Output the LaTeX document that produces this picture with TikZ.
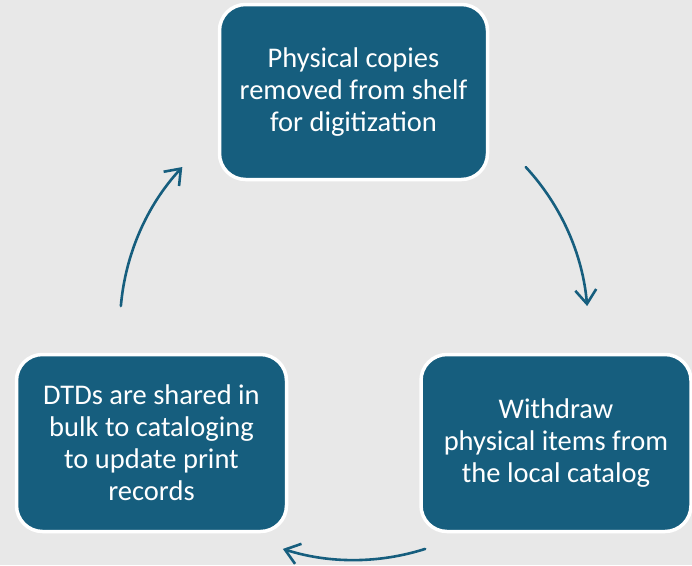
\documentclass[tikz,border=0pt]{standalone}
\usepackage{fontspec}
\setmainfont{Carlito}
\usetikzlibrary{arrows.meta,calc}
\definecolor{bg}{HTML}{E8E8E8}
\definecolor{teal}{HTML}{165E7E}
\begin{document}
\begin{tikzpicture}[x=1pt,y=-1pt,
  stepbox/.style={draw=white, line width=3.5pt, fill=teal, rounded corners=26pt,
    minimum width=268pt, minimum height=175pt, text=white, align=center,
    font=\fontsize{28.5}{32}\selectfont, inner sep=0pt},
  cyc/.style={draw=teal, line width=2.6pt, line cap=round,
    -{Straight Barb[length=14pt,width=21pt,line width=2.6pt]}}]
\fill[bg] (0,0) rectangle (692,565);
\useasboundingbox (0,0) rectangle (692,565);
\node[stepbox] (top) at (353.5,92) {Physical copies\\removed from shelf\\for digitization};
\node[stepbox, minimum width=270pt, minimum height=177pt] (right) at (556,443) {Withdraw\\physical items from\\the local catalog};
\node[stepbox, minimum width=270pt, minimum height=177pt] (left) at (151.5,443) {DTDs are shared in\\bulk to cataloging\\to update print\\records};
\coordinate (c) at (354,326);
\coordinate (a1) at ($(c)+(42.8:234pt)$);
\coordinate (a2) at ($(c)+(-72.3:234pt)$);
\coordinate (a3) at ($(c)+(175.1:234pt)$);
\draw[cyc] (a1) arc[start angle=42.8, end angle=4.9, radius=234pt];
\draw[cyc] (a2) arc[start angle=-72.3, end angle=-107.7, radius=234pt];
\draw[cyc] (a3) arc[start angle=175.1, end angle=137.2, radius=234pt];
\end{tikzpicture}
\end{document}
